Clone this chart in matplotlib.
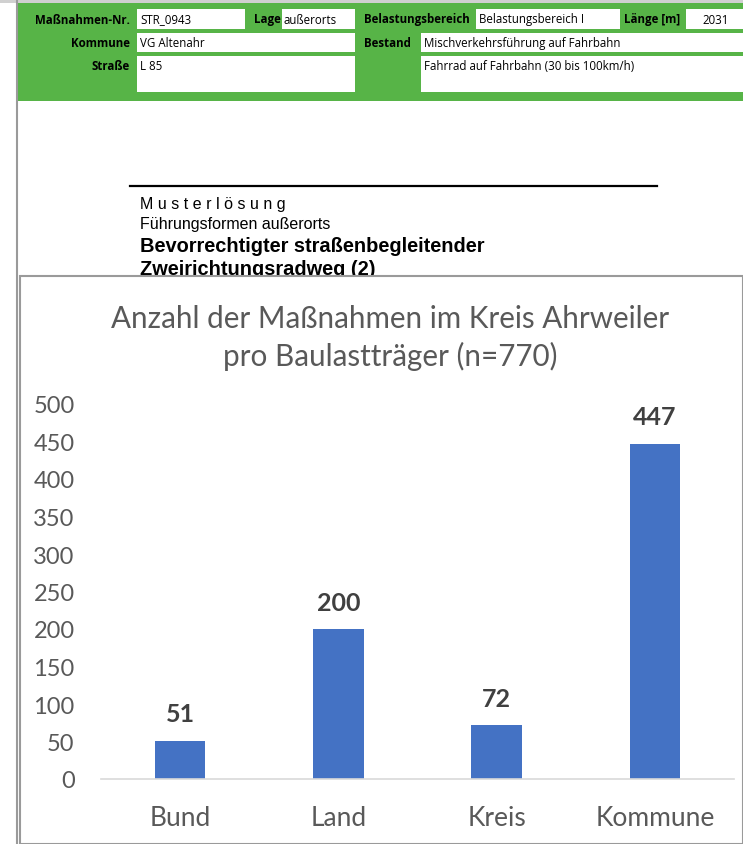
import matplotlib.pyplot as plt
from matplotlib.patches import Rectangle

# chart data
traeger = ["Bund", "Land", "Kreis", "Kommune"]
anzahl = [51, 200, 72, 447]
y_ticks = [0, 50, 100, 150, 200, 250, 300, 350, 400, 450, 500]
titel = "Anzahl der Maßnahmen im Kreis Ahrweiler\npro Baulastträger (n=770)"

# form header texts
form_labels = ["Maßnahmen-Nr.", "Kommune", "Straße"]
form_values = ["STR_0943", "VG Altenahr", "L 85"]
lage = "außerorts"
belastung = "Belastungsbereich I"
laenge = "2031"
bestand = ["Mischverkehrsführung auf Fahrbahn", "Fahrrad auf Fahrbahn (30 bis 100km/h)"]
muster = ["Musterlösung", "Führungsformen außerorts",
          "Bevorrechtigter straßenbegleitender", "Zweirichtungsradweg (2)"]

W, H = 743, 845
fig = plt.figure(figsize=(W / 100, H / 100), dpi=100)

# background axes in pixel coordinates for the document part
bg = fig.add_axes([0, 0, 1, 1])
bg.set_xlim(0, W)
bg.set_ylim(H, 0)
bg.axis("off")

green = "#57B447"
bg.add_patch(Rectangle((0, 0), W, 4, color="#d0d0d0", lw=0))
bg.add_patch(Rectangle((17, 4), W - 17, 98, color=green, lw=0))
bg.plot([16.5, 16.5], [0, H], color="#9a9a9a", lw=1.5)

def box(x0, y0, x1, y1):
    bg.add_patch(Rectangle((x0, y0), x1 - x0, y1 - y0, facecolor="white", lw=0))

box(137, 10, 245, 30)
box(282, 10, 355, 30)
box(137, 34, 355, 53)
box(137, 57, 355, 93)
box(476, 10, 620, 30)
box(686, 10, W, 30)
box(421, 34, W, 53)
box(421, 57, W, 93)

ff = "Open Sans"
fs = 8.3
for lab, val, y in zip(form_labels, form_values, [20, 43.5, 66]):
    bg.text(130, y, lab, ha="right", va="center", fontsize=fs, fontweight="bold", family=ff)
    bg.text(140, y, val, ha="left", va="center", fontsize=fs, family=ff)
bg.text(281, 20, "Lage", ha="right", va="center", fontsize=fs, fontweight="bold", family=ff)
bg.text(284, 20, lage, ha="left", va="center", fontsize=fs, family=ff)
bg.text(364, 20, "Belastungsbereich", ha="left", va="center", fontsize=fs, fontweight="bold", family=ff)
bg.text(479, 20, belastung, ha="left", va="center", fontsize=fs, family=ff)
bg.text(680, 20, "Länge [m]", ha="right", va="center", fontsize=fs, fontweight="bold", family=ff)
bg.text(716, 20, laenge, ha="center", va="center", fontsize=fs, family=ff)
bg.text(364, 43.5, "Bestand", ha="left", va="center", fontsize=fs, fontweight="bold", family=ff)
bg.text(424, 43.5, bestand[0], ha="left", va="center", fontsize=fs, family=ff)
bg.text(424, 66, bestand[1], ha="left", va="center", fontsize=fs, family=ff)

# Musterlösung block
bg.plot([130, 657], [187, 187], color="black", lw=1.6)
bg.text(140, 204, " ".join(muster[0]), ha="left", va="center",
        fontsize=11.5, family="Liberation Sans")
bg.text(140, 225, muster[1], ha="left", va="center", fontsize=11.5,
        family="Liberation Sans")
bg.text(140, 247, muster[2], ha="left", va="center", fontsize=14.4,
        fontweight="bold", family="Liberation Sans")
bg.text(140, 270, muster[3], ha="left", va="center", fontsize=14.4,
        fontweight="bold", family="Liberation Sans")

# chart panel
bg.add_patch(Rectangle((20, 277), W - 20, H - 277, facecolor="white",
                       edgecolor="#9a9a9a", lw=1.5, zorder=3))
bg.text(390, 338, titel, ha="center", va="center", fontsize=21.3, color="#595959",
        family="Lato", linespacing=1.35, zorder=4)

ax = fig.add_axes([101 / W, 1 - 780 / H, (734 - 101) / W, (780 - 405) / H])
ax.set_zorder(5)
ax.patch.set_alpha(0)
x = range(len(traeger))
bars = ax.bar(x, anzahl, width=0.32, color="#4472C4")
ax.set_xlim(-0.5, len(traeger) - 0.5)
ax.set_ylim(0, 500)
ax.set_yticks(y_ticks)
ax.set_xticks(list(x))
ax.set_xticklabels(traeger)
ax.tick_params(axis="both", length=0, labelsize=17, colors="#595959")
ax.tick_params(axis="x", pad=19, labelsize=19)
ax.tick_params(axis="y", pad=19)
for lbl in ax.get_xticklabels() + ax.get_yticklabels():
    lbl.set_family("Lato")
for s in ["top", "right", "left"]:
    ax.spines[s].set_visible(False)
ax.spines["bottom"].set_color("#d9d9d9")
ax.spines["bottom"].set_linewidth(1.2)
for b, v in zip(bars, anzahl):
    ax.annotate(str(v), (b.get_x() + b.get_width() / 2, v), xytext=(0, 11),
                textcoords="offset points", ha="center", va="bottom",
                fontsize=18, fontweight="bold", color="#404040", family="Lato")

fig.savefig("out.png", dpi=100)
